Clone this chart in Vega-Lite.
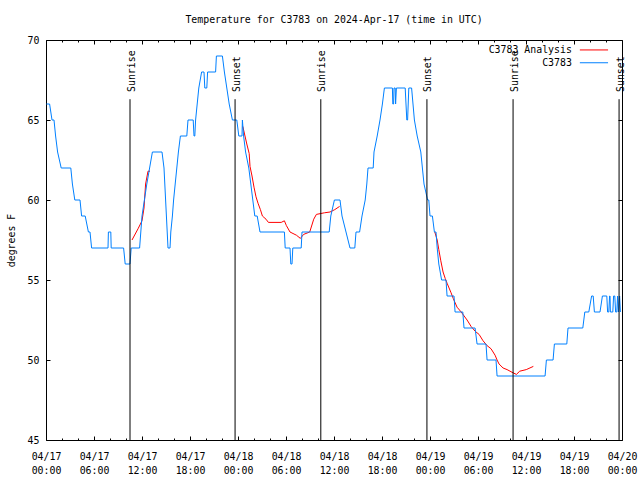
{
  "$schema": "https://vega.github.io/schema/vega-lite/v6.json",
  "width": 576,
  "height": 400,
  "autosize": {"type": "none"},
  "padding": {"left": 46, "top": 40, "right": 18, "bottom": 40},
  "background": "white",
  "title": {"text": "Temperature for C3783 on 2024-Apr-17 (time in UTC)", "font": "DejaVu Sans Mono", "fontSize": 9.9, "fontWeight": "normal", "color": "black", "anchor": "middle", "offset": 10},
  "config": {
    "view": {"stroke": "black", "strokeWidth": 1},
    "font": "DejaVu Sans Mono",
    "axis": {"domain": false, "grid": false, "tickColor": "black", "tickWidth": 1, "labelColor": "black", "labelFont": "DejaVu Sans Mono", "labelFontSize": 9.9, "titleFont": "DejaVu Sans Mono", "titleFontSize": 9.9, "titleFontWeight": "normal", "titleColor": "black", "labelOverlap": false}
  },
  "datasets": {
    "obs": [
      {"time": "2024-04-17T00:03Z", "temp": 66}, {"time": "2024-04-17T00:27Z", "temp": 66}, {"time": "2024-04-17T00:45Z", "temp": 65}, {"time": "2024-04-17T01:00Z", "temp": 65},
      {"time": "2024-04-17T01:12Z", "temp": 64}, {"time": "2024-04-17T01:27Z", "temp": 63}, {"time": "2024-04-17T01:54Z", "temp": 62}, {"time": "2024-04-17T03:06Z", "temp": 62},
      {"time": "2024-04-17T03:18Z", "temp": 61}, {"time": "2024-04-17T03:36Z", "temp": 60}, {"time": "2024-04-17T04:15Z", "temp": 60}, {"time": "2024-04-17T04:27Z", "temp": 59},
      {"time": "2024-04-17T04:54Z", "temp": 59}, {"time": "2024-04-17T05:18Z", "temp": 58}, {"time": "2024-04-17T05:30Z", "temp": 58}, {"time": "2024-04-17T05:42Z", "temp": 57},
      {"time": "2024-04-17T07:45Z", "temp": 57}, {"time": "2024-04-17T07:48Z", "temp": 58}, {"time": "2024-04-17T08:06Z", "temp": 58}, {"time": "2024-04-17T08:09Z", "temp": 57},
      {"time": "2024-04-17T09:42Z", "temp": 57}, {"time": "2024-04-17T09:54Z", "temp": 56}, {"time": "2024-04-17T10:30Z", "temp": 56}, {"time": "2024-04-17T10:39Z", "temp": 57},
      {"time": "2024-04-17T11:42Z", "temp": 57}, {"time": "2024-04-17T11:51Z", "temp": 58}, {"time": "2024-04-17T12:00Z", "temp": 59}, {"time": "2024-04-17T12:18Z", "temp": 60},
      {"time": "2024-04-17T12:36Z", "temp": 61}, {"time": "2024-04-17T12:57Z", "temp": 62}, {"time": "2024-04-17T13:18Z", "temp": 63}, {"time": "2024-04-17T14:30Z", "temp": 63},
      {"time": "2024-04-17T14:45Z", "temp": 62}, {"time": "2024-04-17T15:15Z", "temp": 57}, {"time": "2024-04-17T15:30Z", "temp": 57}, {"time": "2024-04-17T15:36Z", "temp": 58},
      {"time": "2024-04-17T15:48Z", "temp": 59}, {"time": "2024-04-17T15:57Z", "temp": 60}, {"time": "2024-04-17T16:09Z", "temp": 61}, {"time": "2024-04-17T16:21Z", "temp": 62},
      {"time": "2024-04-17T16:33Z", "temp": 63}, {"time": "2024-04-17T16:48Z", "temp": 64}, {"time": "2024-04-17T17:36Z", "temp": 64}, {"time": "2024-04-17T17:45Z", "temp": 65},
      {"time": "2024-04-17T18:24Z", "temp": 65}, {"time": "2024-04-17T18:30Z", "temp": 64}, {"time": "2024-04-17T18:36Z", "temp": 64}, {"time": "2024-04-17T18:42Z", "temp": 65},
      {"time": "2024-04-17T18:54Z", "temp": 66}, {"time": "2024-04-17T19:06Z", "temp": 67}, {"time": "2024-04-17T19:27Z", "temp": 68}, {"time": "2024-04-17T19:45Z", "temp": 68},
      {"time": "2024-04-17T19:51Z", "temp": 67}, {"time": "2024-04-17T20:06Z", "temp": 67}, {"time": "2024-04-17T20:12Z", "temp": 68}, {"time": "2024-04-17T21:12Z", "temp": 68},
      {"time": "2024-04-17T21:18Z", "temp": 69}, {"time": "2024-04-17T22:03Z", "temp": 69}, {"time": "2024-04-17T22:18Z", "temp": 68}, {"time": "2024-04-17T22:36Z", "temp": 67},
      {"time": "2024-04-17T22:54Z", "temp": 66}, {"time": "2024-04-17T23:18Z", "temp": 65}, {"time": "2024-04-17T23:51Z", "temp": 65}, {"time": "2024-04-18T00:06Z", "temp": 64},
      {"time": "2024-04-18T00:30Z", "temp": 64}, {"time": "2024-04-18T00:33Z", "temp": 65}, {"time": "2024-04-18T00:42Z", "temp": 64}, {"time": "2024-04-18T00:57Z", "temp": 63},
      {"time": "2024-04-18T01:21Z", "temp": 62}, {"time": "2024-04-18T01:36Z", "temp": 61}, {"time": "2024-04-18T01:51Z", "temp": 60}, {"time": "2024-04-18T02:06Z", "temp": 59},
      {"time": "2024-04-18T02:24Z", "temp": 59}, {"time": "2024-04-18T02:45Z", "temp": 58}, {"time": "2024-04-18T05:48Z", "temp": 58}, {"time": "2024-04-18T05:54Z", "temp": 57},
      {"time": "2024-04-18T06:30Z", "temp": 57}, {"time": "2024-04-18T06:36Z", "temp": 56}, {"time": "2024-04-18T06:45Z", "temp": 56}, {"time": "2024-04-18T06:51Z", "temp": 57},
      {"time": "2024-04-18T07:54Z", "temp": 57}, {"time": "2024-04-18T08:00Z", "temp": 58}, {"time": "2024-04-18T11:24Z", "temp": 58}, {"time": "2024-04-18T11:36Z", "temp": 59},
      {"time": "2024-04-18T12:03Z", "temp": 60}, {"time": "2024-04-18T12:45Z", "temp": 60}, {"time": "2024-04-18T13:00Z", "temp": 59}, {"time": "2024-04-18T13:30Z", "temp": 58},
      {"time": "2024-04-18T14:00Z", "temp": 57}, {"time": "2024-04-18T14:36Z", "temp": 57}, {"time": "2024-04-18T14:45Z", "temp": 58}, {"time": "2024-04-18T15:12Z", "temp": 58},
      {"time": "2024-04-18T15:30Z", "temp": 59}, {"time": "2024-04-18T15:54Z", "temp": 60}, {"time": "2024-04-18T16:06Z", "temp": 61}, {"time": "2024-04-18T16:15Z", "temp": 62},
      {"time": "2024-04-18T16:54Z", "temp": 62}, {"time": "2024-04-18T17:00Z", "temp": 63}, {"time": "2024-04-18T17:24Z", "temp": 64}, {"time": "2024-04-18T17:45Z", "temp": 65},
      {"time": "2024-04-18T18:03Z", "temp": 66}, {"time": "2024-04-18T18:18Z", "temp": 67}, {"time": "2024-04-18T19:18Z", "temp": 67}, {"time": "2024-04-18T19:21Z", "temp": 66},
      {"time": "2024-04-18T19:27Z", "temp": 66}, {"time": "2024-04-18T19:30Z", "temp": 67}, {"time": "2024-04-18T19:39Z", "temp": 67}, {"time": "2024-04-18T19:42Z", "temp": 66},
      {"time": "2024-04-18T19:48Z", "temp": 67}, {"time": "2024-04-18T20:54Z", "temp": 67}, {"time": "2024-04-18T21:06Z", "temp": 65}, {"time": "2024-04-18T21:12Z", "temp": 65},
      {"time": "2024-04-18T21:21Z", "temp": 67}, {"time": "2024-04-18T21:42Z", "temp": 67}, {"time": "2024-04-18T22:03Z", "temp": 65}, {"time": "2024-04-18T22:24Z", "temp": 64},
      {"time": "2024-04-18T22:51Z", "temp": 63}, {"time": "2024-04-18T23:03Z", "temp": 62}, {"time": "2024-04-18T23:15Z", "temp": 61}, {"time": "2024-04-18T23:42Z", "temp": 60},
      {"time": "2024-04-18T23:51Z", "temp": 60}, {"time": "2024-04-19T00:00Z", "temp": 59}, {"time": "2024-04-19T00:18Z", "temp": 59}, {"time": "2024-04-19T00:33Z", "temp": 58},
      {"time": "2024-04-19T00:45Z", "temp": 58}, {"time": "2024-04-19T00:54Z", "temp": 57}, {"time": "2024-04-19T01:06Z", "temp": 56}, {"time": "2024-04-19T01:27Z", "temp": 55},
      {"time": "2024-04-19T02:00Z", "temp": 55}, {"time": "2024-04-19T02:08Z", "temp": 54}, {"time": "2024-04-19T03:00Z", "temp": 54}, {"time": "2024-04-19T03:08Z", "temp": 53},
      {"time": "2024-04-19T04:06Z", "temp": 53}, {"time": "2024-04-19T04:15Z", "temp": 52}, {"time": "2024-04-19T05:38Z", "temp": 52}, {"time": "2024-04-19T05:53Z", "temp": 51},
      {"time": "2024-04-19T07:00Z", "temp": 51}, {"time": "2024-04-19T07:08Z", "temp": 50}, {"time": "2024-04-19T08:15Z", "temp": 50}, {"time": "2024-04-19T08:23Z", "temp": 49},
      {"time": "2024-04-19T14:23Z", "temp": 49}, {"time": "2024-04-19T14:33Z", "temp": 50}, {"time": "2024-04-19T15:23Z", "temp": 50}, {"time": "2024-04-19T15:33Z", "temp": 51},
      {"time": "2024-04-19T17:06Z", "temp": 51}, {"time": "2024-04-19T17:15Z", "temp": 52}, {"time": "2024-04-19T19:06Z", "temp": 52}, {"time": "2024-04-19T19:21Z", "temp": 53},
      {"time": "2024-04-19T19:51Z", "temp": 53}, {"time": "2024-04-19T20:12Z", "temp": 54}, {"time": "2024-04-19T20:24Z", "temp": 54}, {"time": "2024-04-19T20:33Z", "temp": 53},
      {"time": "2024-04-19T21:15Z", "temp": 53}, {"time": "2024-04-19T21:33Z", "temp": 54}, {"time": "2024-04-19T22:06Z", "temp": 54}, {"time": "2024-04-19T22:12Z", "temp": 53},
      {"time": "2024-04-19T22:21Z", "temp": 53}, {"time": "2024-04-19T22:27Z", "temp": 54}, {"time": "2024-04-19T22:30Z", "temp": 54}, {"time": "2024-04-19T22:33Z", "temp": 53},
      {"time": "2024-04-19T22:51Z", "temp": 53}, {"time": "2024-04-19T22:57Z", "temp": 54}, {"time": "2024-04-19T23:06Z", "temp": 54}, {"time": "2024-04-19T23:12Z", "temp": 53},
      {"time": "2024-04-19T23:21Z", "temp": 53}, {"time": "2024-04-19T23:27Z", "temp": 54}, {"time": "2024-04-19T23:33Z", "temp": 53}, {"time": "2024-04-19T23:42Z", "temp": 54},
      {"time": "2024-04-19T23:48Z", "temp": 53}
    ],
    "analysis": [
      {"time": "2024-04-17T10:45Z", "temp": 57.5, "seg": 1}, {"time": "2024-04-17T11:30Z", "temp": 58.2, "seg": 1}, {"time": "2024-04-17T12:00Z", "temp": 58.7, "seg": 1},
      {"time": "2024-04-17T12:15Z", "temp": 59.5, "seg": 1}, {"time": "2024-04-17T12:27Z", "temp": 61.0, "seg": 1}, {"time": "2024-04-17T12:45Z", "temp": 61.8, "seg": 1},
      {"time": "2024-04-17T13:00Z", "temp": 61.8, "seg": 1},
      {"time": "2024-04-18T00:36Z", "temp": 64.6, "seg": 2}, {"time": "2024-04-18T01:06Z", "temp": 63.5, "seg": 2}, {"time": "2024-04-18T01:24Z", "temp": 62.9, "seg": 2},
      {"time": "2024-04-18T01:30Z", "temp": 62.1, "seg": 2}, {"time": "2024-04-18T01:45Z", "temp": 61.5, "seg": 2}, {"time": "2024-04-18T02:00Z", "temp": 60.8, "seg": 2},
      {"time": "2024-04-18T02:15Z", "temp": 60.2, "seg": 2}, {"time": "2024-04-18T02:30Z", "temp": 59.8, "seg": 2}, {"time": "2024-04-18T02:48Z", "temp": 59.4, "seg": 2},
      {"time": "2024-04-18T03:03Z", "temp": 59.0, "seg": 2}, {"time": "2024-04-18T03:30Z", "temp": 58.8, "seg": 2}, {"time": "2024-04-18T03:48Z", "temp": 58.6, "seg": 2},
      {"time": "2024-04-18T05:24Z", "temp": 58.6, "seg": 2}, {"time": "2024-04-18T05:48Z", "temp": 58.7, "seg": 2}, {"time": "2024-04-18T06:03Z", "temp": 58.4, "seg": 2},
      {"time": "2024-04-18T06:30Z", "temp": 58.0, "seg": 2}, {"time": "2024-04-18T07:18Z", "temp": 57.8, "seg": 2}, {"time": "2024-04-18T07:48Z", "temp": 57.6, "seg": 2},
      {"time": "2024-04-18T08:12Z", "temp": 57.85, "seg": 2}, {"time": "2024-04-18T08:58Z", "temp": 58.0, "seg": 2}, {"time": "2024-04-18T09:28Z", "temp": 58.8, "seg": 2},
      {"time": "2024-04-18T09:48Z", "temp": 59.1, "seg": 2}, {"time": "2024-04-18T10:48Z", "temp": 59.2, "seg": 2}, {"time": "2024-04-18T11:30Z", "temp": 59.25, "seg": 2},
      {"time": "2024-04-18T12:06Z", "temp": 59.4, "seg": 2}, {"time": "2024-04-18T12:42Z", "temp": 59.6, "seg": 2},
      {"time": "2024-04-19T00:36Z", "temp": 58.0, "seg": 3}, {"time": "2024-04-19T00:54Z", "temp": 57.5, "seg": 3}, {"time": "2024-04-19T01:06Z", "temp": 56.9, "seg": 3},
      {"time": "2024-04-19T01:21Z", "temp": 56.2, "seg": 3}, {"time": "2024-04-19T01:38Z", "temp": 55.5, "seg": 3}, {"time": "2024-04-19T01:54Z", "temp": 55.1, "seg": 3},
      {"time": "2024-04-19T02:08Z", "temp": 54.8, "seg": 3}, {"time": "2024-04-19T02:23Z", "temp": 54.5, "seg": 3}, {"time": "2024-04-19T02:38Z", "temp": 54.2, "seg": 3},
      {"time": "2024-04-19T02:54Z", "temp": 53.85, "seg": 3}, {"time": "2024-04-19T03:23Z", "temp": 53.3, "seg": 3}, {"time": "2024-04-19T03:54Z", "temp": 53.0, "seg": 3},
      {"time": "2024-04-19T04:38Z", "temp": 52.5, "seg": 3}, {"time": "2024-04-19T05:08Z", "temp": 52.1, "seg": 3}, {"time": "2024-04-19T05:38Z", "temp": 51.8, "seg": 3},
      {"time": "2024-04-19T06:08Z", "temp": 51.6, "seg": 3}, {"time": "2024-04-19T06:38Z", "temp": 51.2, "seg": 3}, {"time": "2024-04-19T07:08Z", "temp": 50.9, "seg": 3},
      {"time": "2024-04-19T07:38Z", "temp": 50.7, "seg": 3}, {"time": "2024-04-19T08:08Z", "temp": 50.3, "seg": 3}, {"time": "2024-04-19T08:23Z", "temp": 50.0, "seg": 3},
      {"time": "2024-04-19T08:38Z", "temp": 49.75, "seg": 3}, {"time": "2024-04-19T09:08Z", "temp": 49.5, "seg": 3}, {"time": "2024-04-19T09:38Z", "temp": 49.4, "seg": 3},
      {"time": "2024-04-19T10:23Z", "temp": 49.2, "seg": 3}, {"time": "2024-04-19T10:48Z", "temp": 49.1, "seg": 3}, {"time": "2024-04-19T11:13Z", "temp": 49.3, "seg": 3},
      {"time": "2024-04-19T12:02Z", "temp": 49.4, "seg": 3}, {"time": "2024-04-19T12:55Z", "temp": 49.6, "seg": 3}
    ],
    "events": [
      {"time": "2024-04-17T10:30Z", "event": "Sunrise"}, {"time": "2024-04-17T23:38Z", "event": "Sunset"},
      {"time": "2024-04-18T10:21Z", "event": "Sunrise"}, {"time": "2024-04-18T23:37Z", "event": "Sunset"},
      {"time": "2024-04-19T10:23Z", "event": "Sunrise"}, {"time": "2024-04-19T23:38Z", "event": "Sunset"}
    ]
  },
  "layer": [
    {
      "data": {"name": "analysis"},
      "mark": {"type": "line", "strokeWidth": 1, "interpolate": "linear"},
      "encoding": {
        "x": {"field": "time", "type": "temporal", "scale": {"type": "utc", "domain": [{"year": 2024, "month": 4, "date": 17, "utc": true}, {"year": 2024, "month": 4, "date": 20, "utc": true}]},
          "axis": {"orient": "bottom", "tickCount": 12, "tickSize": 4, "offset": -4, "labelPadding": 11, "labelAngle": 0, "labelFlush": false, "labelLineHeight": 14, "labelBaseline": "top",
            "labelExpr": "[utcFormat(datum.value, '%m/%d'), utcFormat(datum.value, '%H:%M')]", "title": null}},
        "y": {"field": "temp", "type": "quantitative", "scale": {"domain": [45, 70], "nice": false, "zero": false},
          "axis": {"orient": "left", "values": [45, 50, 55, 60, 65, 70], "tickSize": 4, "offset": -4, "labelPadding": 7, "title": "degrees F", "titlePadding": 11}},
        "detail": {"field": "seg", "type": "nominal"},
        "color": {"datum": "C3783 Analysis", "type": "nominal",
          "scale": {"domain": ["C3783 Analysis", "C3783"], "range": ["#ff0000", "#0080ff"]},
          "legend": {"orient": "none", "legendX": 543, "legendY": 5, "title": null, "symbolType": "M-4.7,0H4.7", "symbolSize": 36, "symbolStrokeWidth": 1, "labelFont": "DejaVu Sans Mono", "labelFontSize": 9.9, "labelColor": "black", "labelAlign": "right", "labelOffset": -27, "rowPadding": 1.8, "padding": 0}}
      }
    },
    {
      "data": {"name": "obs"},
      "mark": {"type": "line", "strokeWidth": 1, "interpolate": "linear"},
      "encoding": {
        "x": {"field": "time", "type": "temporal",
          "axis": {"orient": "top", "tickCount": 12, "tickSize": 4, "offset": -4, "labels": false, "title": null}},
        "y": {"field": "temp", "type": "quantitative",
          "axis": {"orient": "right", "values": [45, 50, 55, 60, 65, 70], "tickSize": 4, "offset": -4, "labels": false, "title": null}},
        "color": {"datum": "C3783", "type": "nominal"}
      }
    },
    {
      "data": {"name": "events"},
      "mark": {"type": "rule", "color": "black", "strokeWidth": 1},
      "encoding": {
        "x": {"field": "time", "type": "temporal",
          "axis": {"orient": "bottom", "tickSize": 2, "offset": -2, "labels": false, "title": null,
            "values": [
              {"year": 2024, "month": 4, "date": 17, "hours": 2, "utc": true}, {"year": 2024, "month": 4, "date": 17, "hours": 4, "utc": true},
              {"year": 2024, "month": 4, "date": 17, "hours": 8, "utc": true}, {"year": 2024, "month": 4, "date": 17, "hours": 10, "utc": true},
              {"year": 2024, "month": 4, "date": 17, "hours": 14, "utc": true}, {"year": 2024, "month": 4, "date": 17, "hours": 16, "utc": true},
              {"year": 2024, "month": 4, "date": 17, "hours": 20, "utc": true}, {"year": 2024, "month": 4, "date": 17, "hours": 22, "utc": true},
              {"year": 2024, "month": 4, "date": 18, "hours": 2, "utc": true}, {"year": 2024, "month": 4, "date": 18, "hours": 4, "utc": true},
              {"year": 2024, "month": 4, "date": 18, "hours": 8, "utc": true}, {"year": 2024, "month": 4, "date": 18, "hours": 10, "utc": true},
              {"year": 2024, "month": 4, "date": 18, "hours": 14, "utc": true}, {"year": 2024, "month": 4, "date": 18, "hours": 16, "utc": true},
              {"year": 2024, "month": 4, "date": 18, "hours": 20, "utc": true}, {"year": 2024, "month": 4, "date": 18, "hours": 22, "utc": true},
              {"year": 2024, "month": 4, "date": 19, "hours": 2, "utc": true}, {"year": 2024, "month": 4, "date": 19, "hours": 4, "utc": true},
              {"year": 2024, "month": 4, "date": 19, "hours": 8, "utc": true}, {"year": 2024, "month": 4, "date": 19, "hours": 10, "utc": true},
              {"year": 2024, "month": 4, "date": 19, "hours": 14, "utc": true}, {"year": 2024, "month": 4, "date": 19, "hours": 16, "utc": true},
              {"year": 2024, "month": 4, "date": 19, "hours": 20, "utc": true}, {"year": 2024, "month": 4, "date": 19, "hours": 22, "utc": true}
            ]}},
        "y": {"datum": 66.3, "axis": null},
        "y2": {"datum": 45}
      }
    },
    {
      "data": {"name": "events"},
      "mark": {"type": "text", "angle": 270, "align": "left", "baseline": "middle", "font": "DejaVu Sans Mono", "fontSize": 9.9, "color": "black", "dy": 1.5},
      "encoding": {
        "x": {"field": "time", "type": "temporal",
          "axis": {"orient": "top", "tickSize": 2, "offset": -2, "labels": false, "title": null,
            "values": [
              {"year": 2024, "month": 4, "date": 17, "hours": 2, "utc": true}, {"year": 2024, "month": 4, "date": 17, "hours": 4, "utc": true},
              {"year": 2024, "month": 4, "date": 17, "hours": 8, "utc": true}, {"year": 2024, "month": 4, "date": 17, "hours": 10, "utc": true},
              {"year": 2024, "month": 4, "date": 17, "hours": 14, "utc": true}, {"year": 2024, "month": 4, "date": 17, "hours": 16, "utc": true},
              {"year": 2024, "month": 4, "date": 17, "hours": 20, "utc": true}, {"year": 2024, "month": 4, "date": 17, "hours": 22, "utc": true},
              {"year": 2024, "month": 4, "date": 18, "hours": 2, "utc": true}, {"year": 2024, "month": 4, "date": 18, "hours": 4, "utc": true},
              {"year": 2024, "month": 4, "date": 18, "hours": 8, "utc": true}, {"year": 2024, "month": 4, "date": 18, "hours": 10, "utc": true},
              {"year": 2024, "month": 4, "date": 18, "hours": 14, "utc": true}, {"year": 2024, "month": 4, "date": 18, "hours": 16, "utc": true},
              {"year": 2024, "month": 4, "date": 18, "hours": 20, "utc": true}, {"year": 2024, "month": 4, "date": 18, "hours": 22, "utc": true},
              {"year": 2024, "month": 4, "date": 19, "hours": 2, "utc": true}, {"year": 2024, "month": 4, "date": 19, "hours": 4, "utc": true},
              {"year": 2024, "month": 4, "date": 19, "hours": 8, "utc": true}, {"year": 2024, "month": 4, "date": 19, "hours": 10, "utc": true},
              {"year": 2024, "month": 4, "date": 19, "hours": 14, "utc": true}, {"year": 2024, "month": 4, "date": 19, "hours": 16, "utc": true},
              {"year": 2024, "month": 4, "date": 19, "hours": 20, "utc": true}, {"year": 2024, "month": 4, "date": 19, "hours": 22, "utc": true}
            ]}},
        "y": {"datum": 66.75, "axis": null},
        "text": {"field": "event"}
      }
    }
  ],
  "resolve": {"axis": {"x": "independent", "y": "independent"}}
}
